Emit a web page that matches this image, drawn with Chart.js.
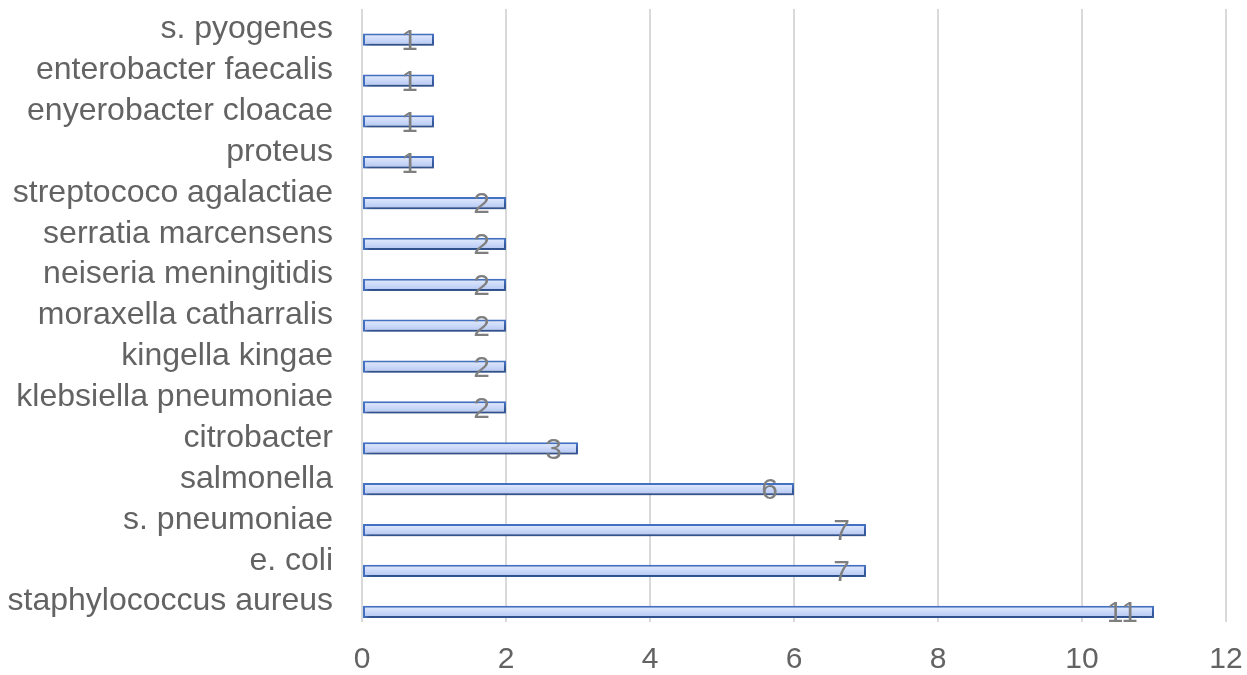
<!DOCTYPE html>
<html>
<head>
<meta charset="utf-8">
<script src="https://cdn.jsdelivr.net/npm/chart.js@4"></script>
<style>
  html, body { margin: 0; padding: 0; background: #fff; }
  #wrap { width: 1247px; height: 675px; position: relative; }
</style>
</head>
<body>
<div id="wrap"><canvas id="chart"></canvas></div>
<script>
// categories, top to bottom as drawn
const organisms = [
  's. pyogenes', 'enterobacter faecalis', 'enyerobacter cloacae', 'proteus',
  'streptococo agalactiae', 'serratia marcensens', 'neiseria meningitidis',
  'moraxella catharralis', 'kingella kingae', 'klebsiella pneumoniae',
  'citrobacter', 'salmonella', 's. pneumoniae', 'e. coli', 'staphylococcus aureus'
];
const cases = [1, 1, 1, 1, 2, 2, 2, 2, 2, 2, 3, 6, 7, 7, 11];
const xTicks = [0, 2, 4, 6, 8, 10, 12];

const font = "'Liberation Sans', Arial, Helvetica, sans-serif";
const textGrey = '#636363';

// bar fill: light blue, slightly lighter at the top
function barFill(context) {
  const chart = context.chart;
  const area = chart.chartArea;
  const yScale = chart.scales.y;
  if (!area || !yScale) return '#c8d7fa';
  const band = (area.bottom - area.top) / organisms.length;
  const cy = yScale.getPixelForValue(context.dataIndex) + band / 4;
  const g = chart.ctx.createLinearGradient(0, cy - 6, 0, cy + 6);
  g.addColorStop(0, '#e4ecfd');
  g.addColorStop(1, '#b2c5f3');
  return g;
}

// soft shadow under the bars + value labels near the bar end
const barExtras = {
  id: 'barExtras',
  beforeDatasetsDraw(chart) {
    const ctx = chart.ctx;
    ctx.save();
    ctx.shadowColor = 'rgba(0, 0, 0, 0.35)';
    ctx.shadowBlur = 4;
    ctx.shadowOffsetX = 2;
    ctx.shadowOffsetY = 3;
  },
  afterDatasetsDraw(chart) {
    const ctx = chart.ctx;
    ctx.restore();
    const meta = chart.getDatasetMeta(1);
    ctx.save();
    ctx.font = '30px ' + font;
    ctx.fillStyle = '#7f7f7f';
    ctx.textAlign = 'right';
    ctx.textBaseline = 'middle';
    meta.data.forEach((bar, i) => {
      ctx.fillText(String(cases[i]), bar.x - 16, bar.y + 2);
    });
    ctx.restore();
  }
};

new Chart(document.getElementById('chart'), {
  type: 'bar',
  data: {
    labels: organisms,
    datasets: [
      // empty series that takes the upper half of each category band
      { label: '', data: organisms.map(() => null) },
      {
        label: 'cases',
        data: cases,
        backgroundColor: barFill,
        borderColor: '#4472c4',
        borderWidth: 2,
        borderSkipped: false,
      },
    ],
  },
  options: {
    indexAxis: 'y',
    responsive: true,
    maintainAspectRatio: false,
    animation: false,
    categoryPercentage: 1.0,
    barPercentage: 0.6,
    layout: { padding: { top: 9, right: 21, left: 0, bottom: 0 } },
    plugins: {
      legend: { display: false },
      tooltip: { enabled: false },
    },
    scales: {
      x: {
        min: 0,
        max: 12,
        afterBuildTicks: (scale) => { scale.ticks = xTicks.map(v => ({ value: v })); },
        afterFit: (scale) => {
          scale.height = 53;
          scale.paddingLeft = 0;
          scale.paddingRight = 0;
        },
        grid: { color: '#d9d9d9', lineWidth: 2, drawTicks: false },
        border: { display: false },
        ticks: { color: textGrey, font: { family: font, size: 30 }, padding: 20 },
      },
      y: {
        afterFit: (scale) => {
          scale.width = 362;
          scale.paddingTop = 0;
          scale.paddingBottom = 0;
        },
        grid: { display: false, drawTicks: false },
        border: { display: false },
        ticks: { color: textGrey, font: { family: font, size: 32 }, padding: 29, autoSkip: false },
      },
    },
  },
  plugins: [barExtras],
});
</script>
</body>
</html>
